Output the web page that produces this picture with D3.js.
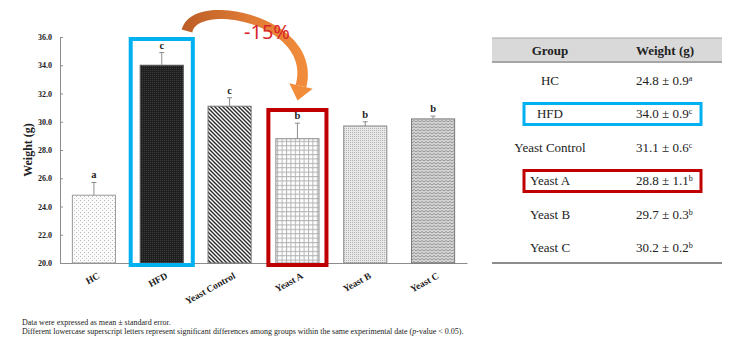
<!DOCTYPE html>
<html>
<head>
<meta charset="utf-8">
<script src="https://cdn.jsdelivr.net/npm/d3@7"></script>
<style>
  html, body { margin: 0; padding: 0; background: #fff; }
  svg { display: block; }
</style>
</head>
<body>
<svg id="chart" width="730" height="346"></svg>
<script>
// Body weight by group (mean ± SE) with significance letters
const groups  = ["HC", "HFD", "Yeast Control", "Yeast A", "Yeast B", "Yeast C"];
const weights = [24.8, 34.0, 31.1, 28.8, 29.7, 30.2];
const errors  = [0.9, 0.9, 0.6, 1.1, 0.3, 0.2];
const letters = ["a", "c", "c", "b", "b", "b"];
const yTicks  = [20, 22, 24, 26, 28, 30, 32, 34, 36];
const changeLabel = "-15%";
const footnotes = [
  "Data were expressed as mean \u00b1 standard error.",
  "Different lowercase superscript letters represent significant differences among groups within the same experimental date (p-value < 0.05)."
];

const svg = d3.select("#chart");
const serif = "'Liberation Serif', 'Times New Roman', serif";

// ---------- fill patterns ----------
const defs = svg.append("defs");
function pattern(id, w, h, draw) {
  const p = defs.append("pattern").attr("id", id)
    .attr("patternUnits", "userSpaceOnUse").attr("width", w).attr("height", h);
  draw(p);
}
pattern("p-dots", 4, 4, p => {
  p.append("rect").attr("width", 4).attr("height", 4).attr("fill", "#fbfbfb");
  p.append("rect").attr("x", 0).attr("y", 0).attr("width", 1).attr("height", 1).attr("fill", "#b8b8b8");
  p.append("rect").attr("x", 2).attr("y", 2).attr("width", 1).attr("height", 1).attr("fill", "#c8c8c8");
});
pattern("p-dark", 2, 2, p => {
  p.append("rect").attr("width", 2).attr("height", 2).attr("fill", "#1f1f1f");
  p.append("rect").attr("width", 1).attr("height", 1).attr("fill", "#3c3c3c");
});
pattern("p-diag", 4, 4, p => {
  p.append("rect").attr("width", 4).attr("height", 4).attr("fill", "#fff");
  p.append("path").attr("d", "M-1,-1L5,5M3,-1L5,1M-1,3L1,5")
    .attr("stroke", "#2a2a2a").attr("stroke-width", 1.4);
});
pattern("p-grid", 4.4, 4.4, p => {
  p.append("rect").attr("width", 4.4).attr("height", 4.4).attr("fill", "#fff");
  p.append("path").attr("d", "M0,0.5H4.4M0.5,0V4.4")
    .attr("stroke", "#b4b4b4").attr("stroke-width", 1);
});
pattern("p-fine", 2, 2, p => {
  p.append("rect").attr("width", 2).attr("height", 2).attr("fill", "#e8e8e8");
  p.append("rect").attr("width", 1).attr("height", 1).attr("fill", "#b4b4b4");
});
pattern("p-zig", 4, 3, p => {
  p.append("rect").attr("width", 4).attr("height", 3).attr("fill", "#d6d6d6");
  p.append("path").attr("d", "M0,2L2,0.5L4,2")
    .attr("stroke", "#8a8a8a").attr("stroke-width", 0.9).attr("fill", "none");
});
const fills   = ["url(#p-dots)", "url(#p-dark)", "url(#p-diag)", "url(#p-grid)", "url(#p-fine)", "url(#p-zig)"];
const borders = ["#9a9a9a", "#555", "#777", "#8a8a8a", "#8a8a8a", "#777"];

// ---------- scales ----------
const x = d3.scaleBand().domain(groups).range([60, 467]).paddingInner(0.35).paddingOuter(0.175);
const y = d3.scaleLinear().domain([20, 36]).range([263, 37]);

// ---------- axes ----------
const yAxis = svg.append("g").attr("transform", "translate(60,0)")
  .call(d3.axisLeft(y).tickValues(yTicks).tickFormat(d3.format(".1f")).tickSizeInner(-3).tickSizeOuter(0).tickPadding(8));
yAxis.select(".domain").attr("stroke", "#8c8c8c");
yAxis.selectAll(".tick line").attr("stroke", "#8c8c8c");
yAxis.selectAll(".tick text").attr("font-family", serif).attr("font-weight", "bold")
  .attr("font-size", 8).attr("fill", "#222");

const xAxis = svg.append("g").attr("transform", "translate(0,263)")
  .call(d3.axisBottom(x).tickSize(0).tickSizeOuter(0));
xAxis.select(".domain").attr("stroke", "#8c8c8c");
xAxis.selectAll(".tick text")
  .attr("font-family", serif).attr("font-weight", "bold").attr("font-size", 9.5).attr("fill", "#222")
  .attr("text-anchor", "end").attr("dy", 0)
  .attr("transform", "translate(5,12) rotate(-29)");

svg.append("text")
  .attr("transform", "translate(32,150) rotate(-90)")
  .attr("text-anchor", "middle")
  .attr("font-family", serif).attr("font-weight", "bold").attr("font-size", 12).attr("fill", "#222")
  .text("Weight (g)");

// ---------- bars ----------
const data = groups.map((g, i) => ({ g, v: weights[i], e: errors[i], l: letters[i], i }));
svg.append("g").selectAll("rect").data(data).join("rect")
  .attr("x", d => x(d.g) + 0.5).attr("y", d => y(d.v))
  .attr("width", x.bandwidth() - 1).attr("height", d => y(20) - y(d.v))
  .attr("fill", d => fills[d.i]).attr("stroke", d => borders[d.i]).attr("stroke-width", 1);

// error bars (upper half) with caps
const eb = svg.append("g").attr("stroke", "#8c8c8c").attr("stroke-width", 1);
eb.selectAll("line.v").data(data).join("line").attr("class", "v")
  .attr("x1", d => x(d.g) + x.bandwidth() / 2).attr("x2", d => x(d.g) + x.bandwidth() / 2)
  .attr("y1", d => y(d.v)).attr("y2", d => y(d.v + d.e));
eb.selectAll("line.c").data(data).join("line").attr("class", "c")
  .attr("x1", d => x(d.g) + x.bandwidth() / 2 - 2.5).attr("x2", d => x(d.g) + x.bandwidth() / 2 + 2.5)
  .attr("y1", d => y(d.v + d.e)).attr("y2", d => y(d.v + d.e));

svg.append("g").selectAll("text").data(data).join("text")
  .attr("x", d => x(d.g) + x.bandwidth() / 2).attr("y", d => y(d.v + d.e) - 4)
  .attr("text-anchor", "middle")
  .attr("font-family", serif).attr("font-weight", "bold").attr("font-size", 10.5).attr("fill", "#222")
  .text(d => d.l);

// ---------- highlight frames ----------
function frame(name, pad, top, color) {
  svg.append("rect")
    .attr("x", x(name) - pad).attr("y", top)
    .attr("width", x.bandwidth() + 2 * pad).attr("height", 265 - top)
    .attr("fill", "none").attr("stroke", color).attr("stroke-width", 4);
}
frame("HFD", 9, 39, "#00b0f0");
frame("Yeast A", 7, 110, "#c00000");

// ---------- curved arrow HFD -> Yeast A ----------
const grad = defs.append("linearGradient").attr("id", "arrow-grad")
  .attr("gradientUnits", "userSpaceOnUse").attr("x1", 185).attr("y1", 0).attr("x2", 305).attr("y2", 0);
grad.append("stop").attr("offset", "0%").attr("stop-color", "#bd5e28");
grad.append("stop").attr("offset", "55%").attr("stop-color", "#e07c34");
grad.append("stop").attr("offset", "100%").attr("stop-color", "#f08c3a");

const P0 = [187, 31], P1 = [195, -5], P2 = [318, 20], P3 = [301, 86];
function bez(t) {
  const u = 1 - t;
  return [
    u*u*u*P0[0] + 3*u*u*t*P1[0] + 3*u*t*t*P2[0] + t*t*t*P3[0],
    u*u*u*P0[1] + 3*u*u*t*P1[1] + 3*u*t*t*P2[1] + t*t*t*P3[1]
  ];
}
const N = 50, left = [], right = [];
let endNormal = [1, 0];
for (let k = 0; k <= N; k++) {
  const t = k / N;
  const a = bez(Math.max(0, t - 0.01)), b = bez(Math.min(1, t + 0.01));
  const dx = b[0] - a[0], dy = b[1] - a[1], len = Math.hypot(dx, dy);
  const nx = -dy / len, ny = dx / len;
  const w = 5.5 - 1.2 * Math.sin(Math.PI * t);
  const p = bez(t);
  left.push([p[0] + nx * w, p[1] + ny * w]);
  right.push([p[0] - nx * w, p[1] - ny * w]);
  if (k === N) endNormal = [nx, ny, dx / len, dy / len];
}
const body = left.concat(right.slice().reverse());
svg.append("path")
  .attr("d", d3.line()(body) + "Z")
  .attr("fill", "url(#arrow-grad)");
// arrow head at the end of the curve
const [enx, eny, etx, ety] = endNormal;
const hw = 12, hl = 15;
const head = [
  [P3[0] + enx * hw, P3[1] + eny * hw],
  [P3[0] - enx * hw, P3[1] - eny * hw],
  [P3[0] + etx * hl, P3[1] + ety * hl]
];
svg.append("path").attr("d", d3.line()(head) + "Z").attr("fill", "#f08c3a");

svg.append("text")
  .attr("x", 267).attr("y", 39).attr("text-anchor", "middle")
  .attr("font-family", "'Noto Sans', sans-serif").attr("font-size", 20).attr("fill", "#d9252c")
  .text(changeLabel);

// ---------- summary table ----------
const tbl = svg.append("g");
tbl.append("rect").attr("x", 492).attr("y", 38).attr("width", 230).attr("height", 24).attr("fill", "#d9d9d9");
tbl.append("line").attr("x1", 492).attr("x2", 722).attr("y1", 38).attr("y2", 38).attr("stroke", "#a6a6a6").attr("stroke-width", 1);
tbl.append("line").attr("x1", 492).attr("x2", 722).attr("y1", 62).attr("y2", 62).attr("stroke", "#a6a6a6").attr("stroke-width", 2);
tbl.append("line").attr("x1", 492).attr("x2", 722).attr("y1", 263).attr("y2", 263).attr("stroke", "#8c8c8c").attr("stroke-width", 2);

tbl.append("text").attr("x", 550).attr("y", 55).attr("text-anchor", "middle")
  .attr("font-family", serif).attr("font-weight", "bold").attr("font-size", 13).attr("fill", "#222").text("Group");
tbl.append("text").attr("x", 665).attr("y", 55).attr("text-anchor", "middle")
  .attr("font-family", serif).attr("font-weight", "bold").attr("font-size", 13).attr("fill", "#222").text("Weight (g)");

const rowY = d3.scalePoint().domain(groups).range([84.5, 252]);
const rows = tbl.selectAll("g.row").data(data).join("g").attr("class", "row");
rows.append("text").attr("x", 550).attr("y", d => rowY(d.g)).attr("text-anchor", "middle")
  .attr("font-family", serif).attr("font-size", 13).attr("fill", "#222").text(d => d.g);
const wt = rows.append("text").attr("x", 636).attr("y", d => rowY(d.g))
  .attr("font-family", serif).attr("font-size", 13).attr("fill", "#222");
wt.append("tspan").text(d => `${d.v.toFixed(1)} \u00b1 ${d.e.toFixed(1)}`);
wt.append("tspan").attr("font-size", 8).attr("dy", -4).text(d => d.l);

function rowFrame(name, color) {
  tbl.append("rect").attr("x", 524).attr("y", rowY(name) - 14.5).attr("width", 177).attr("height", 21)
    .attr("fill", "none").attr("stroke", color).attr("stroke-width", 3);
}
rowFrame("HFD", "#00b0f0");
rowFrame("Yeast A", "#c00000");

// ---------- footnotes ----------
const fn = svg.append("g").attr("font-family", serif).attr("font-size", 8).attr("fill", "#222");
fn.append("text").attr("x", 22).attr("y", 325).text(footnotes[0]);
const f2 = fn.append("text").attr("x", 22).attr("y", 334);
f2.append("tspan").text("Different lowercase superscript letters represent significant differences among groups within the same experimental date (");
f2.append("tspan").attr("font-style", "italic").text("p");
f2.append("tspan").text("-value < 0.05).");
</script>
</body>
</html>
